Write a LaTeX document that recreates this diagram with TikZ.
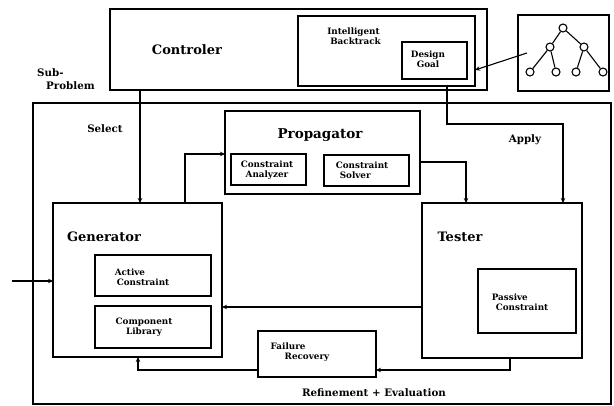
\documentclass[tikz,border=0pt]{standalone}
\usepackage{fontspec}
\setmainfont{DejaVu Serif}
\usetikzlibrary{arrows.meta,calc}
\begin{document}
\begin{tikzpicture}[x=1pt,y=-1pt,
  box/.style={draw,line width=1.6pt,inner sep=0pt,outer sep=0pt,anchor=north west},
  thinbox/.style={draw,line width=1.3pt,inner sep=0pt,outer sep=0pt,anchor=north west},
  big/.style={font=\bfseries\fontsize{13}{15}\selectfont},
  small/.style={font=\bfseries\fontsize{8.8}{10.5}\selectfont,align=left},
  lbl/.style={font=\bfseries\fontsize{10.3}{12.5}\selectfont,align=left},
  conn/.style={line width=1.1pt},
  arr/.style={conn,-{Stealth[length=5pt,width=4.5pt]}},
  leaf/.style={draw,circle,line width=1.1pt,minimum size=8pt,inner sep=0pt}]
\useasboundingbox (0,0) rectangle (614,406);

% outer frame of the search loop
\node[box,line width=2pt,minimum width=578pt,minimum height=301pt] (frame) at (33,103) {};

% controller with backtracking
\node[box,line width=2pt,minimum width=377pt,minimum height=81pt] (ctrl) at (110,9) {};
\node[big] (ctrltxt) at (187,50) {Controler};
\node[box,minimum width=177pt,minimum height=70pt] (ib) at (298,16) {};
\node[small] (ibtxt) at (354,36) {Intelligent\\\hspace*{3pt}Backtrack};
\node[thinbox,minimum width=65pt,minimum height=37pt] (goal) at (402,42) {};
\node[small,align=center] (goaltxt) at (428,59) {Design\\Goal};

% goal tree
\node[box,minimum width=91pt,minimum height=76pt] (tree) at (518,15) {};
\node[leaf] (r) at (563,28) {};
\node[leaf] (a) at (550,47) {};
\node[leaf] (b) at (584,47) {};
\node[leaf] (a1) at (530,72) {};
\node[leaf] (a2) at (556,72) {};
\node[leaf] (b1) at (576,72) {};
\node[leaf] (b2) at (603,72) {};
\draw[conn] (r) -- (a) (r) -- (b) (a) -- (a1) (a) -- (a2) (b) -- (b1) (b) -- (b2);

% propagator
\node[box,minimum width=195pt,minimum height=83pt] (prop) at (225,111) {};
\node[big,font=\bfseries\fontsize{13.5}{15}\selectfont] (proptxt) at (320,135) {Propagator};
\node[thinbox,minimum width=75pt,minimum height=31pt] (ca) at (231,154) {};
\node[small,align=center] (catxt) at (267,170) {Constraint\\Analyzer};
\node[thinbox,minimum width=85pt,minimum height=31pt] (cs) at (324,155) {};
\node[small] (cstxt) at (362,170) {Constraint\\\hspace*{4pt}Solver};

% generator
\node[box,minimum width=169pt,minimum height=154pt] (gen) at (53,203) {};
\node[big] (gentxt) at (104,237) {Generator};
\node[thinbox,minimum width=116pt,minimum height=41pt] (act) at (95,255) {};
\node[small] (acttxt) at (142,277) {Active\\\hspace*{2pt}Constraint};
\node[thinbox,minimum width=116pt,minimum height=42pt] (lib) at (95,306) {};
\node[small,align=center] (libtxt) at (144,327) {Component\\Library};

% tester
\node[box,minimum width=160pt,minimum height=155pt] (tester) at (422,203) {};
\node[big] (testtxt) at (460,237) {Tester};
\node[thinbox,minimum width=98pt,minimum height=64pt] (pas) at (478,269) {};
\node[small] (pastxt) at (520,302) {Passive\\\hspace*{4pt}Constraint};

% failure recovery
\node[box,minimum width=118pt,minimum height=46pt] (fail) at (258,331) {};
\node[small] (failtxt) at (300,352) {Failure\\\hspace*{14pt}Recovery};

% labels
\node[lbl] (subtxt) at (66,79) {Sub-\\\hspace*{9pt}Problem};
\node[lbl] (seltxt) at (105,129) {Select};
\node[lbl] (apptxt) at (525,140) {Apply};
\node[lbl] (reftxt) at (374,393) {Refinement + Evaluation};

% bend points of the connectors
\coordinate (selx) at (140,0);
\coordinate (px) at (185,154);
\coordinate (py) at (466,162);
\coordinate (ax) at (447,0);
\coordinate (apb) at (563,124);
\coordinate (t1) at (527,53);
\coordinate (t2) at (0,70);
\coordinate (fb) at (0,307);
\coordinate (fx) at (510,370);
\coordinate (gx) at (138,0);
\coordinate (inp) at (12,281);

% connectors
\draw[arr] (ctrl.south -| selx) -- (gen.north -| selx);
\draw[arr] (gen.north -| px) |- (prop.west |- px);
\draw[arr] (prop.east |- py) -| (tester.north -| py);
\draw[arr] (ib.south -| ax) |- (apb) -- (tester.north -| apb);
\draw[arr] (t1) -- (ib.east |- t2);
\draw[arr] (tester.west |- fb) -- (gen.east |- fb);
\draw[arr] (tester.south -| fx) |- (fail.east |- fx);
\draw[arr] (fail.west |- fx) -| (gen.south -| gx);
\draw[arr] (inp) -- (gen.west |- inp);
\end{tikzpicture}
\end{document}
